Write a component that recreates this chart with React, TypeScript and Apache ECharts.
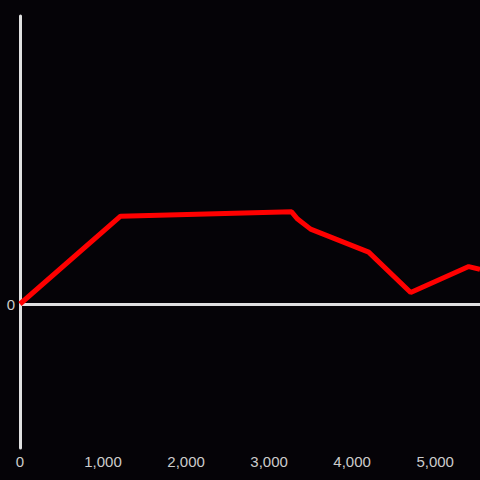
import React, { useEffect, useRef } from "react";
import * as echarts from "echarts";

const xValues = [0, 1211, 3271, 3343, 3500, 4199, 4705, 5404, 5540];
const yValues = [0, 61, 64, 59, 52, 36, 8, 26, 24];
const xTicks = [0, 1000, 2000, 3000, 4000, 5000];

export default function App() {
  const ref = useRef<HTMLDivElement>(null);
  useEffect(() => {
    if (!ref.current) return;
    const chart = echarts.init(ref.current, null, { renderer: "svg" });
    chart.setOption({
      animation: false,
      backgroundColor: "#050307",
      grid: { left: 20, right: 0, top: 16, bottom: 32, containLabel: false },
      xAxis: {
        type: "value",
        min: 0,
        max: 5540,
        interval: 1000,
        axisLine: { show: false },
        axisTick: { show: false },
        splitLine: { show: false },
        axisLabel: {
          color: "#cccccc",
          fontSize: 15,
          fontFamily: "Liberation Sans",
          margin: 6,
          showMaxLabel: false,
          formatter: (v: number) => (xTicks.includes(v) ? v.toLocaleString("en-US") : ""),
        },
      },
      yAxis: {
        type: "value",
        min: -100,
        max: 200,
        interval: 100,
        axisLine: { show: true, onZero: false, lineStyle: { color: "#e0e0e0", width: 3 } },
        axisTick: { show: false },
        splitLine: { show: false },
        axisLabel: {
          color: "#cccccc",
          fontSize: 15,
          fontFamily: "Liberation Sans",
          margin: 5,
          formatter: (v: number) => (v === 0 ? "0" : ""),
        },
      },
      series: [
        {
          type: "line",
          data: xValues.map((x, i) => [x, yValues[i]]),
          symbol: "none",
          lineStyle: { color: "#ff0000", width: 5 },
          z: 3,
          markLine: {
            silent: true,
            symbol: "none",
            label: { show: false },
            lineStyle: { color: "#e0e0e0", width: 3, type: "solid" },
            data: [{ yAxis: 0 }],
            z: 2,
          },
        },
      ],
    });
    return () => chart.dispose();
  }, []);
  return <div ref={ref} style={{ width: 480, height: 480, position: "absolute", left: 0, top: 0 }} />;
}
